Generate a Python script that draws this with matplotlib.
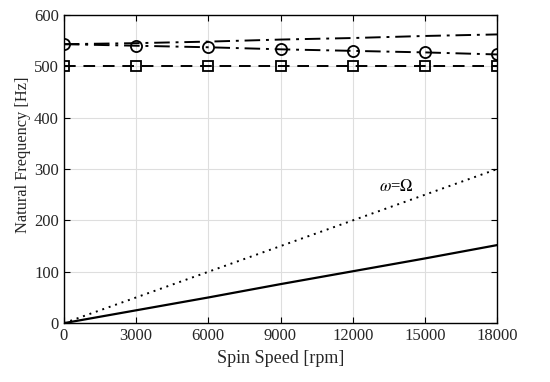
import numpy as np
import matplotlib
matplotlib.use("Agg")
import matplotlib.pyplot as plt

speed = [0, 3000, 6000, 9000, 12000, 15000, 18000]
fw_mode = [543, 545, 548, 552, 555, 559, 562]
bw_mode = [543, 540, 537, 533, 530, 527, 523]
axial_mode = [500, 500, 500, 500, 500, 500, 500]
low_mode = [0, 25, 50, 76, 101, 126, 152]
sync_line = [0, 50, 100, 150, 200, 250, 300]

plt.rcParams["font.family"] = ["Liberation Serif", "DejaVu Serif"]
plt.rcParams["mathtext.fontset"] = "stix"

fig = plt.figure(figsize=(5.5, 3.82), dpi=100)
ax = fig.add_axes([0.116, 0.154, 0.788, 0.807])

ax.plot(speed, fw_mode, color="k", ls=(0, (8, 3, 1.5, 3)), lw=1.4)
ax.plot(speed, bw_mode, color="k", ls=(0, (8, 3, 1.5, 3)), lw=1.4,
        marker="o", ms=8, mfc="none", mew=1.3)
ax.plot(speed, axial_mode, color="k", ls=(0, (6, 4)), lw=1.4,
        marker="s", ms=6.5, mfc="none", mew=1.3)
ax.plot(speed, low_mode, color="k", lw=1.6)
ax.plot(speed, sync_line, color="k", ls=(0, (1, 2.5)), lw=1.4)

ax.text(13100, 258, r"$\omega$=$\Omega$", fontsize=12)

ax.set_xlim(0, 18000)
ax.set_ylim(0, 600)
ax.set_xticks(speed)
ax.set_yticks([0, 100, 200, 300, 400, 500, 600])
ax.grid(True, color="#dedede", lw=0.8)
ax.tick_params(direction="in", top=True, right=True, labelsize=12, length=4,
               labelcolor="#262626")
for s in ax.spines.values():
    s.set_linewidth(1.0)
ax.set_xlabel("Spin Speed [rpm]", fontsize=13, color="#262626")
ax.set_ylabel("Natural Frequency [Hz]", fontsize=11.8, color="#262626")
ax.yaxis.set_label_coords(-0.075, 0.545)

fig.savefig("out.png", dpi=100)
